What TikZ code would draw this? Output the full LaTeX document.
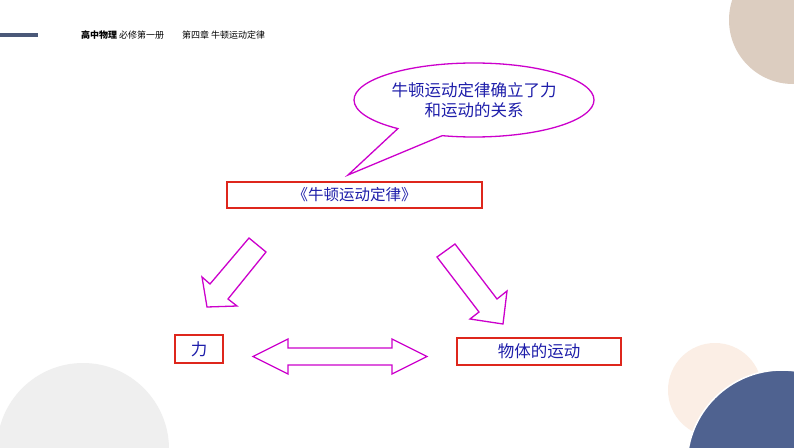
\documentclass[tikz,border=0pt]{standalone}
\usepackage{fontspec}
\setmainfont{Noto Sans CJK SC}
\usetikzlibrary{shapes.callouts}
\definecolor{barblue}{RGB}{74,88,120}
\definecolor{beige}{RGB}{220,205,192}
\definecolor{peach}{RGB}{251,238,229}
\definecolor{navy}{RGB}{79,98,144}
\definecolor{lgray}{RGB}{239,239,239}
\definecolor{mag}{RGB}{204,0,204}
\definecolor{boxred}{RGB}{222,38,28}
\definecolor{txtblue}{RGB}{30,30,170}
\tikzset{
  labelbox/.style={draw=boxred, line width=1.3pt, inner sep=0pt, text=txtblue, font=\fontsize{16.5}{18}\selectfont},
  blockarrow/.style={draw=mag, line width=1.3pt, line join=miter, fill=white},
}
\begin{document}
\begin{tikzpicture}[x=1pt,y=-1pt]
\useasboundingbox (0,0) rectangle (794,447);
\fill[white] (0,0) rectangle (794,447);
% decorative circles
\begin{scope}
\clip (0,0) rectangle (794,447);
\fill[beige] (793,20) circle (64);
\fill[lgray] (83,449) circle (86);
\fill[peach] (715,390) circle (47);
\filldraw[fill=navy, draw=white, line width=1.5pt] (782,465) circle (95);
\end{scope}
% header
\fill[barblue] (0,32.5) rectangle (38,36.5);
\node[anchor=west, inner sep=0pt, font=\fontsize{9}{10}\selectfont] (hdr1) at (81,35) {\textbf{高中物理}\ 必修第一册};
\node[anchor=west, inner sep=0pt, font=\fontsize{9}{10}\selectfont] (hdr2) at (182,35) {第四章 牛顿运动定律};
% callout bubble
\node[ellipse callout, draw=mag, line width=1.3pt, fill=white, minimum width=240pt, minimum height=74pt, inner sep=0pt,
      callout absolute pointer={(348,175)}, callout pointer arc=24,
      align=center, text=txtblue, font=\fontsize{16.5}{20}\selectfont] (bubble) at (474,100)
      {牛顿运动定律确立了力\\和运动的关系};
% boxes
\node[labelbox, minimum width=255pt, minimum height=26pt, font=\fontsize{15.5}{18}\selectfont] (law) at (354.5,195) {《牛顿运动定律》};
\node[labelbox, minimum width=48pt, minimum height=28pt] (force) at (199,349) {力};
\node[labelbox, minimum width=164pt, minimum height=27pt] (motion) at (539,351.5) {物体的运动};
% block arrows
\draw[blockarrow] (249,238) -- (266,252) -- (228,299) -- (237,306) -- (207,307) -- (202,277) -- (210,284) -- cycle;
\draw[blockarrow] (437,257) -- (455,244) -- (497,299) -- (507,291) -- (503,324) -- (470,319) -- (479,312) -- cycle;
\draw[blockarrow] (253,356.5) -- (288,339) -- (288,348) -- (392,348) -- (392,339) -- (427,356.5) -- (392,374) -- (392,365) -- (288,365) -- (288,374) -- cycle;
\end{tikzpicture}
\end{document}
